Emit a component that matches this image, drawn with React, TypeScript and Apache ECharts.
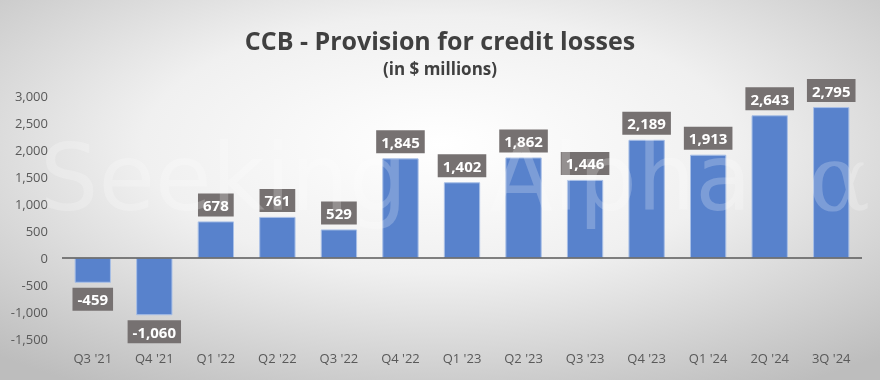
import React, { useEffect, useRef } from "react";
import * as echarts from "echarts";

const categories = ["Q3 '21", "Q4 '21", "Q1 '22", "Q2 '22", "Q3 '22", "Q4 '22", "Q1 '23", "Q2 '23", "Q3 '23", "Q4 '23", "Q1 '24", "2Q '24", "3Q '24"];
const provisions = [-459, -1060, 678, 761, 529, 1845, 1402, 1862, 1446, 2189, 1913, 2643, 2795];
const yTicks = { min: -1500, max: 3000, interval: 500 };
const titleText = "CCB - Provision for credit losses";
const subtitleText = "(in $ millions)";

const fmt = (v: number) => v.toLocaleString("en-US");

export default function App() {
  const ref = useRef<HTMLDivElement>(null);
  useEffect(() => {
    if (!ref.current) return;
    const chart = echarts.init(ref.current, undefined, { renderer: "svg" });
    const condensed = "'Liberation Sans Narrow', 'Open Sans', sans-serif";
    chart.setOption({
      animation: false,
      backgroundColor: new echarts.graphic.RadialGradient(0.5, 0.38, 0.75, [
        { offset: 0, color: "#ffffff" },
        { offset: 0.45, color: "#f0f0f0" },
        { offset: 1, color: "#bdbdbd" },
      ]),
      title: [
        {
          text: titleText,
          left: "center",
          top: 22,
          textStyle: { fontFamily: condensed, fontWeight: "bold", fontSize: 25, color: "#404040" },
        },
        {
          text: subtitleText,
          left: "center",
          top: 55,
          textStyle: { fontFamily: condensed, fontWeight: "bold", fontSize: 17, color: "#404040" },
        },
      ],
      grid: { left: 62, right: 18, top: 96, bottom: 41 },
      xAxis: {
        type: "category",
        data: categories,
        axisLine: { show: false },
        axisTick: { show: false },
        axisLabel: { color: "#595959", fontSize: 13, fontFamily: "'Open Sans', sans-serif", margin: 12 },
      },
      yAxis: {
        type: "value",
        min: yTicks.min,
        max: yTicks.max,
        interval: yTicks.interval,
        axisLine: { show: false },
        axisTick: { show: false },
        splitLine: { show: false },
        axisLabel: {
          color: "#595959",
          fontSize: 13,
          fontFamily: "'Open Sans', sans-serif",
          margin: 14,
          formatter: (v: number) => fmt(v),
        },
      },
      graphic: [
        {
          type: "text",
          left: 40,
          top: 132,
          z: 100,
          silent: true,
          style: { text: "Seeking", fontSize: 92, fontFamily: "'DejaVu Sans', sans-serif", fill: "rgba(255,255,255,0.22)" },
        },
        {
          type: "text",
          left: 490,
          top: 132,
          z: 100,
          silent: true,
          style: { text: "Alpha", fontSize: 92, fontFamily: "'DejaVu Sans', sans-serif", fill: "rgba(255,255,255,0.22)" },
        },
        {
          type: "text",
          left: 808,
          top: 132,
          z: 100,
          silent: true,
          style: { text: "α", fontSize: 92, fontFamily: "'DejaVu Serif', serif", fill: "rgba(255,255,255,0.22)" },
        },
      ],
      series: [
        {
          type: "bar",
          data: provisions.map((v) => ({
            value: v,
            label: { position: v < 0 ? "bottom" : "top" },
          })),
          barCategoryGap: "41%",
          itemStyle: { color: "#5882CC", borderColor: "#A8BFE6", borderWidth: 1 },
          label: {
            show: true,
            distance: 5,
            formatter: (p: any) => fmt(p.value),
            color: "#ffffff",
            fontWeight: "bold",
            fontSize: 15,
            fontFamily: condensed,
            backgroundColor: "#767171",
            padding: [4, 5, 4, 5],
          },
          markLine: {
            silent: true,
            symbol: "none",
            label: { show: false },
            lineStyle: { color: "#595959", width: 1.5, type: "solid" },
            data: [{ yAxis: 0 }],
          },
        },
      ],
    });
    return () => chart.dispose();
  }, []);
  return <div ref={ref} style={{ position: "fixed", left: 0, top: 0, width: 880, height: 380 }} />;
}
